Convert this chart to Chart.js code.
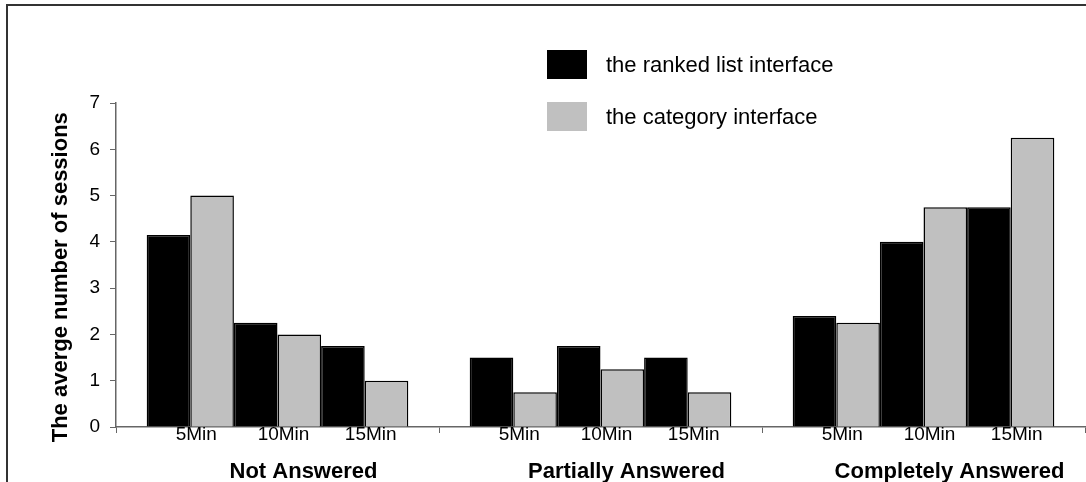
<!DOCTYPE html>
<html>
<head>
<meta charset="utf-8">
<script src="https://cdn.jsdelivr.net/npm/chart.js@4.4.1/dist/chart.umd.min.js"></script>
<style>
  html, body { margin: 0; padding: 0; background: #fff; }
  #wrap { position: relative; width: 1086px; height: 482px; overflow: hidden; }
  #frame { position: absolute; left: 6px; top: 4px; right: -10px; bottom: -10px;
           border-top: 2px solid #333; border-left: 2px solid #333; pointer-events: none; }
  #legend { position: absolute; left: 547px; top: 50px; font-family: "Liberation Sans", Arial, sans-serif;
            font-size: 22px; color: #000; }
  .item { display: flex; align-items: center; height: 29px; margin-bottom: 23px; }
  .swatch { width: 40px; height: 29px; margin-right: 19px; }
</style>
</head>
<body>
<div id="wrap">
  <canvas id="c" width="1086" height="482"></canvas>
  <div id="legend"></div>
  <div id="frame"></div>
</div>
<script>
const groups = ["Not Answered", "Partially Answered", "Completely Answered"];
const times = ["5Min", "10Min", "15Min"];
const seriesNames = ["the ranked list interface", "the category interface"];
const seriesColors = ["#000000", "#c0c0c0"];

// values per time slot, one entry per group
const rankedList5 = [4.15, 1.5, 2.4];
const rankedList10 = [2.25, 1.75, 4];
const rankedList15 = [1.75, 1.5, 4.75];
const category5 = [5, 0.75, 2.25];
const category10 = [2, 1.25, 4.75];
const category15 = [1, 0.75, 6.25];

const yTicks = [0, 1, 2, 3, 4, 5, 6, 7];

const seriesData = [
  [rankedList5, rankedList10, rankedList15],
  [category5, category10, category15]
];

const FONT = "'Liberation Sans', Arial, sans-serif";

const datasets = [];
times.forEach((t, ti) => {
  seriesNames.forEach((name, si) => {
    datasets.push({
      label: name,
      time: t,
      data: seriesData[si][ti],
      backgroundColor: seriesColors[si],
      borderColor: "#000",
      borderWidth: 1.5,
      categoryPercentage: 0.81,
      barPercentage: 1.0
    });
  });
});

// legend
const legendEl = document.getElementById("legend");
seriesNames.forEach((name, i) => {
  const row = document.createElement("div");
  row.className = "item";
  row.innerHTML = '<div class="swatch" style="background:' + seriesColors[i] + '"></div><span>' + name + "</span>";
  legendEl.appendChild(row);
});

// time labels under each pair of bars
const timeLabels = {
  id: "timeLabels",
  afterDraw(chart) {
    const ctx = chart.ctx;
    const y = chart.chartArea.bottom + 8;
    ctx.save();
    ctx.font = "19px " + FONT;
    ctx.fillStyle = "#000";
    ctx.textAlign = "center";
    ctx.textBaseline = "middle";
    times.forEach((t, ti) => {
      const a = chart.getDatasetMeta(ti * 2);
      const b = chart.getDatasetMeta(ti * 2 + 1);
      groups.forEach((g, gi) => {
        const x = (a.data[gi].x + b.data[gi].x) / 2;
        ctx.fillText(t, x + 6, y);
      });
    });
    ctx.restore();
  }
};

new Chart(document.getElementById("c"), {
  type: "bar",
  data: { labels: groups, datasets },
  plugins: [timeLabels],
  options: {
    responsive: false,
    animation: false,
    layout: { padding: { left: 44, top: 103, right: 1, bottom: 0 } },
    plugins: { legend: { display: false }, tooltip: { enabled: false } },
    scales: {
      x: {
        afterFit: (s) => { s.height = 55; },
        grid: { offset: true, drawOnChartArea: false, drawTicks: true, tickLength: 6, color: "#666" },
        border: { color: "#666", width: 1.5 },
        ticks: {
          color: "#000",
          padding: 26,
          labelOffset: 26,
          maxRotation: 0,
          font: { family: FONT, size: 22, weight: "bold" }
        }
      },
      y: {
        min: 0,
        max: 7,
        afterFit: (s) => { s.width = 72; },
        afterBuildTicks: (s) => { s.ticks = yTicks.map((v) => ({ value: v })); },
        grid: { drawOnChartArea: false, drawTicks: true, tickLength: 6, color: "#666" },
        border: { color: "#666", width: 1.5 },
        ticks: { color: "#000", padding: 10, font: { family: FONT, size: 19 } },
        title: {
          display: true,
          text: "The averge number of sessions    ",
          color: "#000",
          padding: { top: 4, bottom: 0 },
          font: { family: FONT, size: 22, weight: "bold" }
        }
      }
    }
  }
});
</script>
</body>
</html>
